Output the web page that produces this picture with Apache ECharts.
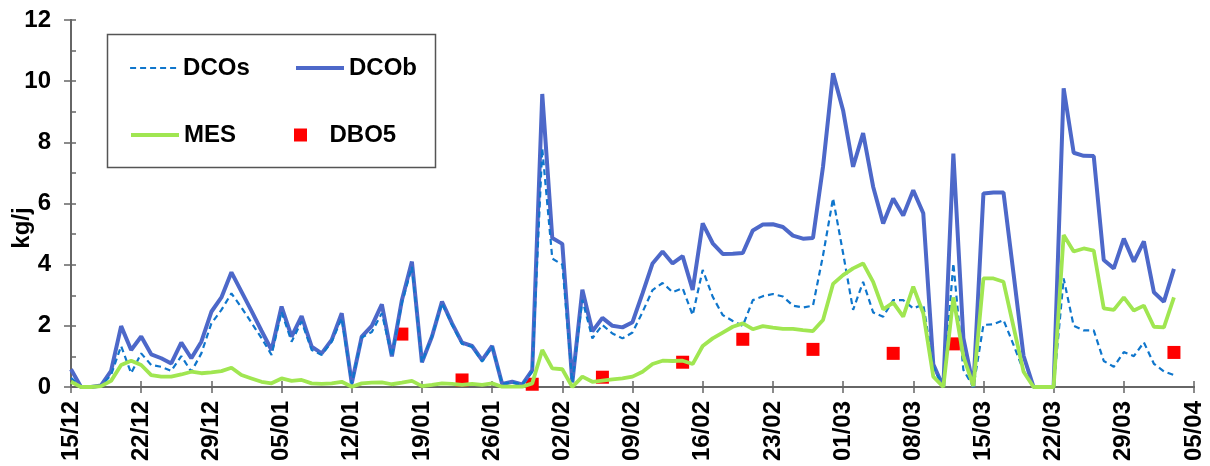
<!DOCTYPE html>
<html>
<head>
<meta charset="utf-8">
<script src="https://cdn.jsdelivr.net/npm/echarts@6/dist/echarts.min.js"></script>
<style>
body { margin: 0; background: #fff; }
#chart { width: 1210px; height: 466px; }
</style>
</head>
<body>
<div id="chart"></div>
<script>
// one value per day, day 0 = 15/12, last point = 03/04
var weekLabels = ['15/12', '22/12', '29/12', '05/01', '12/01', '19/01', '26/01', '02/02', '09/02',
  '16/02', '23/02', '01/03', '08/03', '15/03', '22/03', '29/03', '05/04'];

var dcob = [0.58, 0, 0, 0.05, 0.53, 1.99, 1.21, 1.65, 1.07, 0.94, 0.77, 1.45, 0.94, 1.48, 2.46, 2.93,
  3.75, 3.12, 2.49, 1.84, 1.21, 2.63, 1.65, 2.32, 1.32, 1.1, 1.54, 2.41, 0.12, 1.65, 2.0, 2.7,
  1.0, 2.84, 4.1, 0.81, 1.65, 2.79, 2.08, 1.45, 1.34, 0.88, 1.34, 0.1, 0.17, 0.08, 0.55, 9.58,
  4.87, 4.68, 0.15, 3.18, 1.82, 2.26, 2.0, 1.95, 2.12, 3.06, 4.04, 4.43, 4.04, 4.28, 3.17, 5.35,
  4.7, 4.35, 4.36, 4.38, 5.12, 5.31, 5.32, 5.23, 4.95, 4.85, 4.87, 7.2, 10.26, 9.05, 7.2, 8.3,
  6.55, 5.35, 6.16, 5.61, 6.43, 5.68, 0.74, 0, 7.63, 1.6, 0, 6.33, 6.36, 6.36, 3.71, 1.02,
  0, 0, 0, 9.77, 7.66, 7.56, 7.55, 4.15, 3.88, 4.85, 4.1, 4.76, 3.1, 2.79, 3.86];

var dcos = [0.3, 0, 0, 0.02, 0.4, 1.34, 0.45, 1.1, 0.72, 0.66, 0.53, 1.01, 0.5, 1.1, 2.08, 2.52,
  3.06, 2.6, 2.1, 1.6, 1.05, 2.46, 1.48, 2.14, 1.21, 1.05, 1.48, 2.25, 0.1, 1.62, 1.8, 2.41,
  1.0, 2.74, 3.93, 0.81, 1.65, 2.74, 2.03, 1.41, 1.32, 0.83, 1.32, 0.1, 0.15, 0.08, 0.5, 7.8,
  4.2, 4.0, 0.15, 2.85, 1.59, 2.03, 1.75, 1.59, 1.78, 2.45, 3.17, 3.4, 3.1, 3.23, 2.35, 3.83,
  2.95, 2.35, 2.16, 2.0, 2.84, 2.97, 3.04, 2.96, 2.66, 2.6, 2.66, 4.3, 6.17, 4.38, 2.52, 3.44,
  2.44, 2.3, 2.84, 2.84, 2.57, 2.7, 0.66, 0, 4.04, 0.56, 0, 2.03, 2.05, 2.19, 1.38, 0.53,
  0, 0, 0, 3.55, 2.0, 1.85, 1.85, 0.85, 0.66, 1.14, 1.01, 1.46, 0.76, 0.51, 0.39];

var mes = [0.17, 0, 0, 0.03, 0.2, 0.72, 0.86, 0.72, 0.39, 0.34, 0.34, 0.41, 0.5, 0.45, 0.48, 0.52,
  0.63, 0.39, 0.28, 0.17, 0.12, 0.28, 0.2, 0.23, 0.12, 0.1, 0.12, 0.17, 0.01, 0.12, 0.14, 0.15,
  0.09, 0.14, 0.2, 0.03, 0.07, 0.12, 0.1, 0.07, 0.1, 0.07, 0.12, 0.01, 0.01, 0.01, 0.12, 1.21,
  0.61, 0.58, 0, 0.34, 0.17, 0.21, 0.25, 0.28, 0.34, 0.5, 0.75, 0.86, 0.85, 0.86, 0.75, 1.34,
  1.59, 1.78, 1.97, 2.08, 1.89, 1.99, 1.94, 1.9, 1.9, 1.86, 1.83, 2.19, 3.37, 3.66, 3.88, 4.04,
  3.44, 2.54, 2.76, 2.3, 3.28, 2.41, 0.34, 0, 2.93, 1.0, 0.03, 3.55, 3.55, 3.44, 1.97, 0.5,
  0, 0, 0, 4.97, 4.43, 4.53, 4.46, 2.57, 2.52, 2.93, 2.5, 2.66, 1.97, 1.95, 2.93];

var dboDays = [33, 39, 46, 53, 61, 67, 74, 82, 88, 110];
var dboValues = [1.73, 0.23, 0.09, 0.32, 0.81, 1.56, 1.23, 1.1, 1.41, 1.13];

function pairs(arr) {
  return arr.map(function (v, i) { return [i, v]; });
}

var font = 'Liberation Sans, Arial, sans-serif';
var axisColor = '#666';
var txt = { fontSize: 24, fontWeight: 'bold', color: '#000', fontFamily: font };

var chart = echarts.init(document.getElementById('chart'));
chart.setOption({
  animation: false,
  grid: { left: 71, right: 16, top: 20, bottom: 79, outerBoundsMode: 'none' },
  graphic: [{
    type: 'rect',
    z: 0,
    shape: { x: 107.5, y: 34.5, width: 328, height: 133 },
    style: { fill: '#fff', stroke: '#555', lineWidth: 1.5 }
  }, {
    type: 'text',
    x: 22, y: 228,
    rotation: Math.PI / 2,
    style: { text: 'kg/j', font: 'bold 24px ' + font, fill: '#000', textAlign: 'center', textVerticalAlign: 'middle' }
  }],
  legend: [
    { data: ['DCOs'], left: 129, top: 56, lineStyle: { width: 2.2 } },
    { data: ['DCOb'], left: 294, top: 56, lineStyle: { width: 4 } },
    { data: ['MES'], left: 129, top: 123, lineStyle: { width: 4 } },
    { data: [{ name: 'DBO5', icon: 'path://M0 0H10V10H0Z' }], left: 294, top: 123 }
  ].map(function (l, i) {
    l.padding = 0;
    l.itemWidth = 48;
    l.itemHeight = 13;
    l.textStyle = txt;
    l.selectedMode = false;
    if (i < 3) l.itemStyle = { opacity: 0 };
    return l;
  }),
  xAxis: [{
    type: 'value', min: 0, max: 112, interval: 7,
    axisLine: { onZero: false, lineStyle: { color: axisColor, width: 2 } },
    axisTick: { length: 6, lineStyle: { color: axisColor, width: 1.5 } },
    axisLabel: {
      rotate: 90, margin: 14, fontSize: 24, fontWeight: 'bold', color: '#000', fontFamily: font,
      formatter: function (v) { return weekLabels[Math.round(v / 7)]; }
    },
    splitLine: { show: false }
  }, {
    type: 'value', min: 0, max: 112, interval: 7, position: 'bottom',
    axisLine: { onZero: false, lineStyle: { color: axisColor, width: 2 } },
    axisTick: { inside: true, length: 6, lineStyle: { color: axisColor, width: 1.5 } },
    axisLabel: { show: false },
    splitLine: { show: false }
  }],
  yAxis: [{
    type: 'value', min: 0, max: 12, interval: 2,
    axisLine: { show: true, onZero: false, lineStyle: { color: axisColor, width: 2 } },
    axisTick: { show: true, length: 7, lineStyle: { color: axisColor, width: 1.5 } },
    axisLabel: { margin: 20, fontSize: 24, fontWeight: 'bold', color: '#000', fontFamily: font },
    splitLine: { show: false }
  }, {
    type: 'value', min: 0, max: 12, interval: 1, position: 'left',
    axisLine: { show: true, onZero: false, lineStyle: { color: axisColor, width: 2 } },
    axisTick: { show: true, inside: true, length: 5, lineStyle: { color: axisColor, width: 1.5 } },
    axisLabel: { show: false },
    splitLine: { show: false }
  }],
  series: [{
    name: 'DCOb', type: 'line', data: pairs(dcob), symbol: 'none',
    lineStyle: { color: '#4D68C9', width: 4 }, itemStyle: { color: '#4D68C9' }
  }, {
    name: 'DCOs', type: 'line', data: pairs(dcos), symbol: 'none',
    lineStyle: { color: '#0F76CC', width: 2.2, type: [6, 4] }, itemStyle: { color: '#0F76CC' }
  }, {
    name: 'MES', type: 'line', data: pairs(mes), symbol: 'none',
    lineStyle: { color: '#A0E651', width: 3.8 }, itemStyle: { color: '#A0E651' }
  }, {
    name: 'DBO5', type: 'scatter', symbol: 'rect', symbolSize: 13,
    data: dboDays.map(function (d, i) { return [d, dboValues[i]]; }),
    itemStyle: { color: '#FF0000', opacity: 1 }
  }]
});
</script>
</body>
</html>
